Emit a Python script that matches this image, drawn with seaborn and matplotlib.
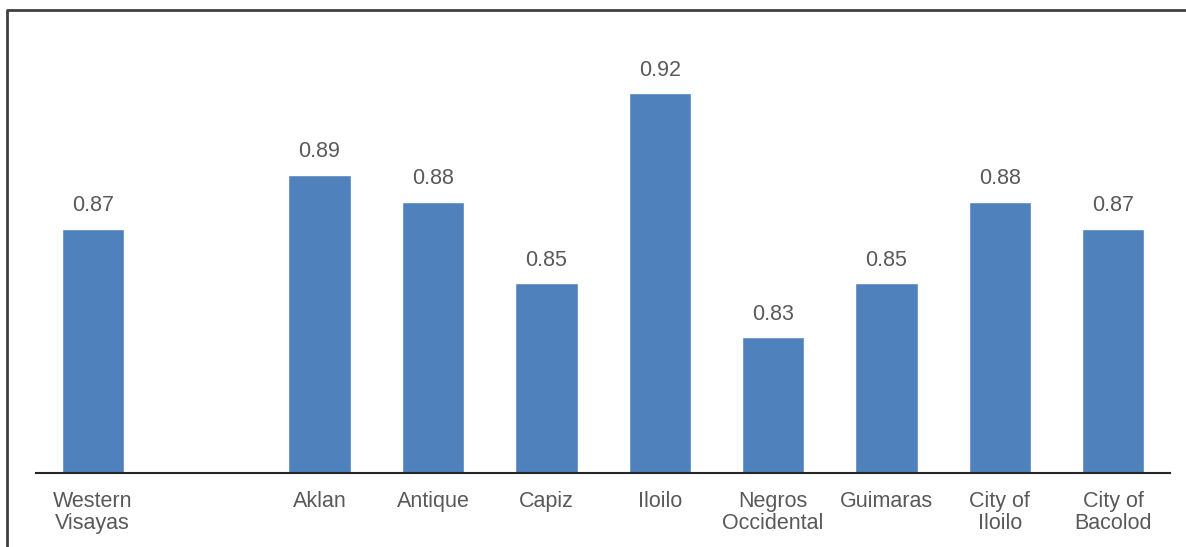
import pandas as pd
import matplotlib.pyplot as plt
from matplotlib.lines import Line2D
import seaborn as sns

# categories (blank slot between region and provinces) and values
areas = ['Western\nVisayas', ' ', 'Aklan', 'Antique', 'Capiz', 'Iloilo',
         'Negros\nOccidental', 'Guimaras', 'City of\nIloilo', 'City of\nBacolod']
values = [0.87, None, 0.89, 0.88, 0.85, 0.92, 0.83, 0.85, 0.88, 0.87]

df = pd.DataFrame({'area': areas, 'value': values}).dropna()

sns.set_style('white')
plt.rcParams['font.family'] = ['Liberation Sans', 'DejaVu Sans']

fig = plt.figure(figsize=(11.86, 5.47), dpi=100)
ax = fig.add_axes([0.0304, 0.1353, 0.9561, 0.8427])

sns.barplot(data=df, x='area', y='value', order=areas, color='#4F81BD',
            saturation=1, width=0.55, ax=ax)

for c in ax.containers:
    ax.bar_label(c, fmt='%.2f', padding=9, fontsize=15.5, color='#595959')

ax.set_ylim(0.78, 0.95)
ax.set_xlim(-0.5, 9.5)
ax.set_xlabel('')
ax.set_ylabel('')
ax.set_yticks([])
ax.tick_params(axis='x', length=0, pad=13, labelsize=15.5, labelcolor='#595959')
for lab in ax.get_xticklabels():
    lab.set_linespacing(1.05)
for s in ['top', 'left', 'right']:
    ax.spines[s].set_visible(False)
ax.spines['bottom'].set_color('#262626')
ax.spines['bottom'].set_linewidth(1.5)

# outer frame of the chart box: only top and left edges are in view
fx, fy = 7 / 1186, 1 - 10 / 547
fig.add_artist(Line2D([fx, fx, 1.0], [0.0, fy, fy], transform=fig.transFigure,
                      color='#404040', linewidth=2))

fig.savefig('out.png', dpi=100)
